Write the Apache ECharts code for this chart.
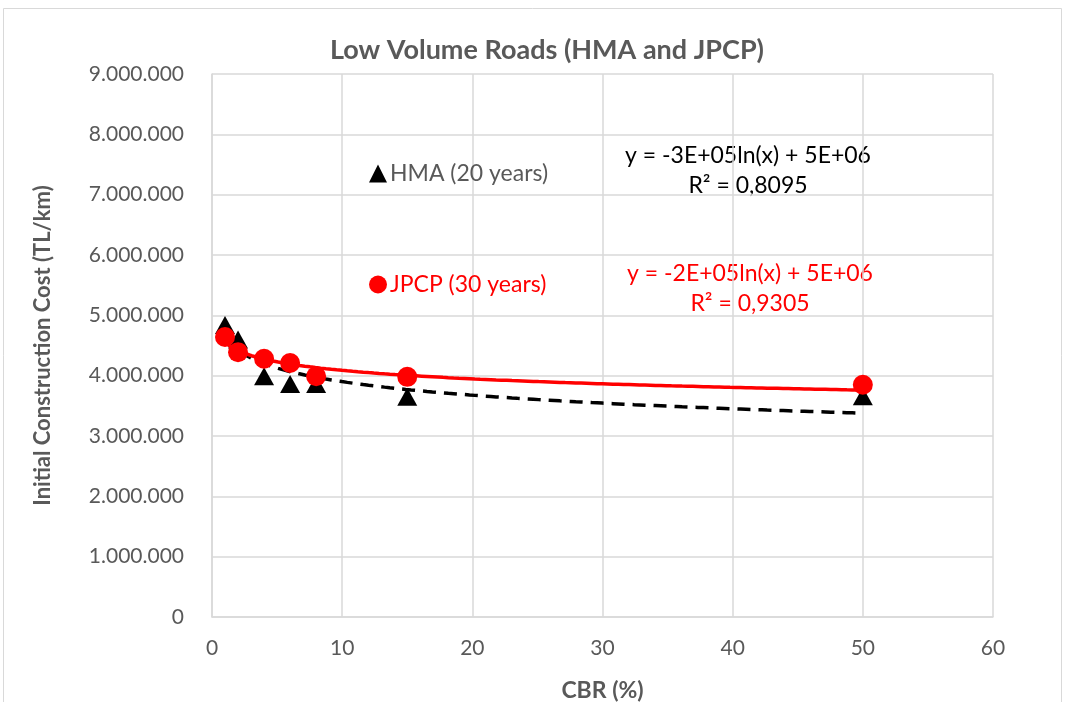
<!DOCTYPE html>
<html>
<head>
<meta charset="utf-8">
<title>Low Volume Roads</title>
<script src="https://cdn.jsdelivr.net/npm/echarts@6/dist/echarts.min.js"></script>
<style>
    html, body { margin: 0; padding: 0; background: #fff; }
    #echarts { width: 1068px; height: 702px; }
</style>
</head>
<body>
<div id="echarts"></div>
<script>
// CBR (%) values
var cbr = [1, 2, 4, 6, 8, 15, 50];
// initial construction cost (TL/km)
var hmaCost = [4840000, 4600000, 3990000, 3860000, 3860000, 3650000, 3660000];
var jpcpCost = [4640000, 4390000, 4280000, 4210000, 3990000, 3980000, 3850000];
var seriesNames = ['HMA (20 years)', 'JPCP (30 years)'];
var hmaEquation = ['y = -3E+05ln(x) + 5E+06', 'R² = 0,8095'];
var jpcpEquation = ['y = -2E+05ln(x) + 5E+06', 'R² = 0,9305'];

var FONT = 'Lato, "Open Sans", sans-serif';
var GRAY = '#595959';

// logarithmic trendline (least squares on ln x), like Excel
function logFit(xs, ys) {
    var n = xs.length, sx = 0, sy = 0, sxx = 0, sxy = 0;
    for (var i = 0; i < n; i++) {
        var l = Math.log(xs[i]);
        sx += l; sy += ys[i]; sxx += l * l; sxy += l * ys[i];
    }
    var a = (n * sxy - sx * sy) / (n * sxx - sx * sx);
    var b = (sy - a * sx) / n;
    var pts = [];
    var x0 = Math.min.apply(null, xs), x1 = Math.max.apply(null, xs);
    for (var k = 0; k <= 120; k++) {
        var x = x0 + (x1 - x0) * k / 120;
        pts.push([x, a * Math.log(x) + b]);
    }
    return pts;
}

function pairs(xs, ys) {
    return xs.map(function (x, i) { return [x, ys[i]]; });
}

function dotted(v) {
    return String(v).replace(/\B(?=(\d{3})+(?!\d))/g, '.');
}

var option = {
    backgroundColor: '#fff',
    animation: false,
    title: {
        text: 'Low Volume Roads (HMA and JPCP)',
        left: 542,
        textAlign: 'center',
        top: 32,
        textStyle: { color: GRAY, fontFamily: FONT, fontSize: 27, fontWeight: 'bold' }
    },
    legend: {
        orient: 'vertical',
        left: 364,
        top: 157,
        itemGap: 88,
        itemWidth: 18,
        itemHeight: 18,
        data: [
            { name: seriesNames[0], icon: 'triangle', textStyle: { color: GRAY } },
            { name: seriesNames[1], icon: 'circle', textStyle: { color: '#ff0000' } }
        ],
        textStyle: { fontFamily: FONT, fontSize: 23, padding: [0, 0, 0, -2] }
    },
    grid: { left: 212, right: 75, top: 74, bottom: 85, outerBoundsMode: 'none' },
    xAxis: {
        type: 'value',
        min: 0,
        max: 60,
        interval: 10,
        name: 'CBR (%)',
        nameLocation: 'middle',
        nameGap: 62,
        nameTextStyle: { color: GRAY, fontFamily: FONT, fontSize: 23, fontWeight: 'bold' },
        axisLine: { show: true, lineStyle: { color: '#d9d9d9', width: 1.5 } },
        axisTick: { show: false },
        axisLabel: { color: GRAY, fontFamily: FONT, fontSize: 21, margin: 21 },
        splitLine: { show: true, lineStyle: { color: '#d9d9d9', width: 1.5 } }
    },
    yAxis: {
        type: 'value',
        min: 0,
        max: 9000000,
        interval: 1000000,
        name: 'Initial Construction Cost (TL/km)',
        nameLocation: 'middle',
        nameGap: 158,
        nameTextStyle: { color: GRAY, fontFamily: FONT, fontSize: 22, fontWeight: 'bold' },
        axisLine: { show: true, lineStyle: { color: '#d9d9d9', width: 1.5 } },
        axisTick: { show: false },
        axisLabel: {
            color: GRAY, fontFamily: FONT, fontSize: 21, margin: 28,
            formatter: function (v) { return dotted(v); }
        },
        splitLine: { show: true, lineStyle: { color: '#d9d9d9', width: 1.5 } }
    },
    graphic: [
        {
            type: 'rect',
            shape: { x: 3.5, y: 8.5, width: 1058, height: 700 },
            style: { fill: null, stroke: '#d9d9d9', lineWidth: 1 },
            silent: true
        },
        {
            type: 'text',
            x: 748,
            y: 141,
            style: {
                text: hmaEquation.join('\n'),
                align: 'center',
                fill: '#000',
                font: '23px ' + FONT,
                lineHeight: 30
            }
        },
        {
            type: 'text',
            x: 750,
            y: 259,
            style: {
                text: jpcpEquation.join('\n'),
                align: 'center',
                fill: '#ff0000',
                font: '23px ' + FONT,
                lineHeight: 30
            }
        }
    ],
    series: [
        {
            name: seriesNames[0],
            type: 'scatter',
            symbol: 'triangle',
            symbolSize: [20, 18],
            itemStyle: { color: '#000', opacity: 1 },
            data: pairs(cbr, hmaCost),
            z: 2
        },
        {
            name: 'HMA trend',
            type: 'line',
            showSymbol: false,
            lineStyle: { color: '#000', width: 3.5, type: [13, 8] },
            data: logFit(cbr, hmaCost),
            z: 3
        },
        {
            name: 'JPCP trend',
            type: 'line',
            showSymbol: false,
            lineStyle: { color: '#ff0000', width: 3.5 },
            data: logFit(cbr, jpcpCost),
            z: 4
        },
        {
            name: seriesNames[1],
            type: 'scatter',
            symbol: 'circle',
            symbolSize: 20,
            itemStyle: { color: '#ff0000', opacity: 1 },
            data: pairs(cbr, jpcpCost),
            z: 5
        }
    ]
};

var myChart = echarts.init(document.getElementById('echarts'));
myChart.setOption(option);
</script>
</body>
</html>
